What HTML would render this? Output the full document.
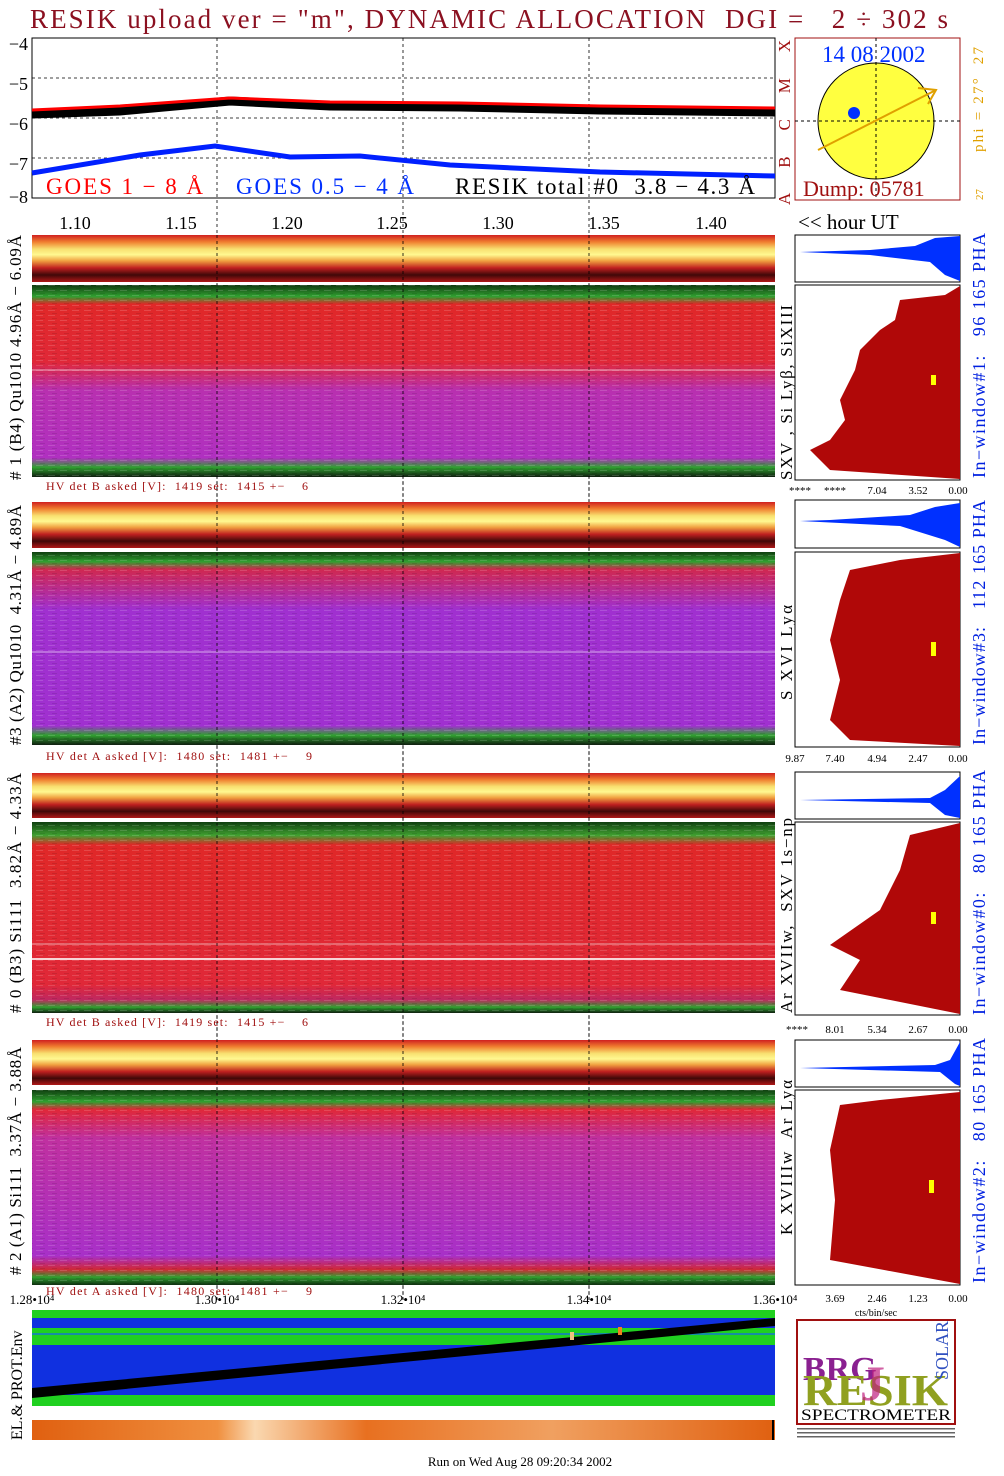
<!DOCTYPE html>
<html><head><meta charset="utf-8"><style>
body{margin:0;background:#fff;width:1004px;height:1476px;overflow:hidden}
svg{display:block}
text{font-family:"Liberation Serif",serif;white-space:pre}
</style></head><body>
<svg width="1004" height="1476" viewBox="0 0 1004 1476" xmlns="http://www.w3.org/2000/svg" xml:space="preserve">
<defs>
<linearGradient id="strip" x1="0" y1="0" x2="0" y2="1">
<stop offset="0" stop-color="#d02020"/><stop offset="0.15" stop-color="#f08030"/><stop offset="0.3" stop-color="#f8e070"/><stop offset="0.42" stop-color="#fff890"/><stop offset="0.55" stop-color="#f0a040"/><stop offset="0.7" stop-color="#c02020"/><stop offset="0.85" stop-color="#400808"/><stop offset="1" stop-color="#b01818"/></linearGradient>
<linearGradient id="m1" x1="0" y1="0" x2="0" y2="1">
<stop offset="0" stop-color="#103810"/><stop offset="0.06" stop-color="#30a030"/><stop offset="0.1" stop-color="#e02828"/><stop offset="0.4" stop-color="#e02838"/><stop offset="0.55" stop-color="#b830b0"/><stop offset="0.9" stop-color="#b030c0"/><stop offset="0.95" stop-color="#30a030"/><stop offset="1" stop-color="#102010"/></linearGradient>
<linearGradient id="m2" x1="0" y1="0" x2="0" y2="1">
<stop offset="0" stop-color="#104010"/><stop offset="0.05" stop-color="#30a030"/><stop offset="0.09" stop-color="#d02850"/><stop offset="0.3" stop-color="#a030d0"/><stop offset="0.9" stop-color="#a030d0"/><stop offset="0.95" stop-color="#30a030"/><stop offset="1" stop-color="#102010"/></linearGradient>
<linearGradient id="m3" x1="0" y1="0" x2="0" y2="1">
<stop offset="0" stop-color="#104010"/><stop offset="0.07" stop-color="#40a030"/><stop offset="0.12" stop-color="#e02828"/><stop offset="0.85" stop-color="#e02838"/><stop offset="0.93" stop-color="#c02860"/><stop offset="0.97" stop-color="#30a030"/><stop offset="1" stop-color="#102010"/></linearGradient>
<linearGradient id="m4" x1="0" y1="0" x2="0" y2="1">
<stop offset="0" stop-color="#104010"/><stop offset="0.06" stop-color="#30a030"/><stop offset="0.1" stop-color="#e02838"/><stop offset="0.25" stop-color="#c030a0"/><stop offset="0.85" stop-color="#a830c8"/><stop offset="0.92" stop-color="#d02838"/><stop offset="0.96" stop-color="#30a030"/><stop offset="1" stop-color="#103010"/></linearGradient>
<pattern id="streak" width="12" height="5" patternUnits="userSpaceOnUse"><rect x="0" y="0" width="7" height="1" fill="#fff" opacity="0.15"/><rect x="4" y="3" width="5" height="1" fill="#000" opacity="0.1"/></pattern>
<linearGradient id="ostrip" x1="0" y1="0" x2="1" y2="0">
<stop offset="0" stop-color="#e06010"/><stop offset="0.25" stop-color="#f09040"/><stop offset="0.3" stop-color="#fad8b0"/><stop offset="0.45" stop-color="#e87020"/><stop offset="0.7" stop-color="#f0a060"/><stop offset="1" stop-color="#e06010"/></linearGradient>
</defs>
<text x="30" y="28" font-size="27" fill="#8b1020" textLength="918" lengthAdjust="spacing">RESIK upload ver = "m", DYNAMIC ALLOCATION  DGI =   2 ÷ 302 s</text>
<rect x="32" y="38" width="743" height="160" fill="#fff" stroke="#000"/>
<g stroke="#000" stroke-dasharray="3,3" stroke-width="0.8">
<line x1="32" y1="78" x2="775" y2="78"/><line x1="32" y1="118" x2="775" y2="118"/><line x1="32" y1="158" x2="775" y2="158"/>
<line x1="217" y1="38" x2="217" y2="1300"/><line x1="403" y1="38" x2="403" y2="1300"/><line x1="589" y1="38" x2="589" y2="1300"/>
</g>
<g font-size="18" text-anchor="end"><text x="28" y="50">−4</text><text x="28" y="90">−5</text><text x="28" y="130">−6</text><text x="28" y="170">−7</text><text x="28" y="203">−8</text></g>
<polyline points="32,114 120,111 230,101 330,106 460,107 600,110 775,112" fill="none" stroke="#000" stroke-width="9"/>
<polyline points="32,110 120,106 230,98 330,102 460,103 600,106 775,108" fill="none" stroke="#f00" stroke-width="3"/>
<polyline points="32,173 140,155 215,146 290,157 360,156 450,165 600,172 775,176" fill="none" stroke="#0020ff" stroke-width="5"/>
<text x="46" y="194" font-size="23" fill="#f00" textLength="157" lengthAdjust="spacing">GOES 1 − 8 Å</text>
<text x="236" y="194" font-size="23" fill="#0030ff" textLength="178" lengthAdjust="spacing">GOES 0.5 − 4 Å</text>
<text x="455" y="194" font-size="23" textLength="300" lengthAdjust="spacing">RESIK total #0  3.8 − 4.3 Å</text>
<text transform="translate(790,205) rotate(-90)" font-size="17" fill="#a01010" textLength="165" lengthAdjust="spacing">A    B    C    M    X</text>
<rect x="795" y="38" width="165" height="162" fill="#fff" stroke="#a01010"/>
<circle cx="876" cy="121" r="58" fill="#ffff40" stroke="#000"/>
<line x1="795" y1="121" x2="960" y2="121" stroke="#000" stroke-dasharray="3,3"/>
<line x1="876" y1="38" x2="876" y2="200" stroke="#000" stroke-dasharray="3,3"/>
<line x1="818" y1="150" x2="936" y2="90" stroke="#e0a000" stroke-width="2"/>
<polyline points="918,88 936,90 928,104" fill="none" stroke="#e0a000" stroke-width="2"/>
<circle cx="854" cy="113" r="6" fill="#0030ff"/>
<text x="822" y="62" font-size="23" fill="#0030ff">14 08 2002</text>
<text x="803" y="196" font-size="22" fill="#a01010">Dump: 05781</text>
<text transform="translate(983,152) rotate(-90)" font-size="15" fill="#e0a000" textLength="105" lengthAdjust="spacing">phi = 27°  27</text>
<text transform="translate(983,200) rotate(-90)" font-size="11" fill="#e0a000">27</text>
<g font-size="18" text-anchor="middle"><text x="75" y="229">1.10</text><text x="181" y="229">1.15</text><text x="287" y="229">1.20</text><text x="392" y="229">1.25</text><text x="498" y="229">1.30</text><text x="604" y="229">1.35</text><text x="711" y="229">1.40</text></g>
<text x="798" y="229" font-size="21">&lt;&lt; hour UT</text>
<g>
<rect x="32" y="235" width="743" height="47" fill="url(#strip)"/>
<rect x="32" y="285" width="743" height="192" fill="url(#m1)"/><rect x="32" y="285" width="743" height="192" fill="url(#streak)"/>
<line x1="32" y1="370" x2="775" y2="370" stroke="#fff" opacity="0.6"/>
<rect x="32" y="502" width="743" height="46" fill="url(#strip)"/>
<rect x="32" y="552" width="743" height="193" fill="url(#m2)"/><rect x="32" y="552" width="743" height="193" fill="url(#streak)"/>
<line x1="32" y1="652" x2="775" y2="652" stroke="#fff" opacity="0.6"/>
<rect x="32" y="773" width="743" height="45" fill="url(#strip)"/>
<rect x="32" y="822" width="743" height="191" fill="url(#m3)"/><rect x="32" y="822" width="743" height="191" fill="url(#streak)"/>
<line x1="32" y1="944" x2="775" y2="944" stroke="#fff" opacity="0.6"/><line x1="32" y1="959" x2="775" y2="959" stroke="#fff" opacity="0.8" stroke-width="2"/>
<rect x="32" y="1040" width="743" height="45" fill="url(#strip)"/>
<rect x="32" y="1090" width="743" height="195" fill="url(#m4)"/><rect x="32" y="1090" width="743" height="195" fill="url(#streak)"/>
</g>
<g stroke="#000" stroke-dasharray="3,3" stroke-width="0.8"><line x1="217" y1="235" x2="217" y2="1300"/><line x1="403" y1="235" x2="403" y2="1300"/><line x1="589" y1="235" x2="589" y2="1300"/></g>
<g font-size="12" fill="#a01010">
<text x="46" y="490" textLength="262" lengthAdjust="spacing">HV det B asked [V]:  1419 set:  1415 +−    6</text>
<text x="46" y="760" textLength="266" lengthAdjust="spacing">HV det A asked [V]:  1480 set:  1481 +−    9</text>
<text x="46" y="1026" textLength="262" lengthAdjust="spacing">HV det B asked [V]:  1419 set:  1415 +−    6</text>
<text x="46" y="1295" textLength="266" lengthAdjust="spacing">HV det A asked [V]:  1480 set:  1481 +−    9</text></g>
<g font-size="17">
<text transform="translate(21,480) rotate(-90)" textLength="245" lengthAdjust="spacing"># 1 (B4) Qu1010 4.96Å − 6.09Å</text>
<text transform="translate(21,745) rotate(-90)" textLength="240" lengthAdjust="spacing">#3 (A2) Qu1010  4.31Å − 4.89Å</text>
<text transform="translate(21,1013) rotate(-90)" textLength="240" lengthAdjust="spacing"># 0 (B3) Si111  3.82Å − 4.33Å</text>
<text transform="translate(21,1275) rotate(-90)" textLength="228" lengthAdjust="spacing"># 2 (A1) Si111  3.37Å − 3.88Å</text>
<text transform="translate(792,480) rotate(-90)" textLength="175" lengthAdjust="spacing">SXV , Si Lyβ, SiXIII</text>
<text transform="translate(792,700) rotate(-90)" textLength="95" lengthAdjust="spacing">S XVI Lyα</text>
<text transform="translate(792,1013) rotate(-90)" textLength="195" lengthAdjust="spacing">Ar XVIIw,  SXV 1s−np</text>
<text transform="translate(792,1235) rotate(-90)" textLength="155" lengthAdjust="spacing">K XVIIIw  Ar Lyα</text>
</g>
<g font-size="18" fill="#0020e0">
<text transform="translate(985,478) rotate(-90)" textLength="245" lengthAdjust="spacing">In−window#1:   96 165 PHA</text>
<text transform="translate(985,745) rotate(-90)" textLength="245" lengthAdjust="spacing">In−window#3:   112 165 PHA</text>
<text transform="translate(985,1015) rotate(-90)" textLength="245" lengthAdjust="spacing">In−window#0:   80 165 PHA</text>
<text transform="translate(985,1283) rotate(-90)" textLength="245" lengthAdjust="spacing">In−window#2:   80 165 PHA</text>
</g>
<g stroke="#000" fill="#fff">
<rect x="795" y="235" width="165" height="47"/><rect x="795" y="285" width="165" height="195"/>
<rect x="795" y="500" width="165" height="48"/><rect x="795" y="552" width="165" height="195"/>
<rect x="795" y="772" width="165" height="47"/><rect x="795" y="822" width="165" height="193"/>
<rect x="795" y="1040" width="165" height="47"/><rect x="795" y="1090" width="165" height="195"/>
</g>
<g fill="#0030ff">
<polygon points="960,236 935,238 915,246 870,250 800,252 870,255 930,262 945,275 960,281"/>
<polygon points="960,503 935,507 910,515 830,520 800,521 900,526 945,540 960,547"/>
<polygon points="960,776 945,790 930,798 800,800 930,803 945,815 960,818"/>
<polygon points="960,1042 950,1060 935,1065 800,1068 940,1072 955,1084 960,1086"/>
</g>
<g fill="#b00808">
<polygon points="960,286 945,295 900,300 895,320 880,330 860,350 855,370 840,400 845,420 830,440 810,450 830,470 960,479"/>
<polygon points="960,553 900,560 850,570 840,600 830,640 840,680 830,720 850,740 960,746"/>
<polygon points="960,823 910,835 900,870 880,910 830,945 860,960 840,990 960,1014"/>
<polygon points="960,1092 880,1100 840,1105 830,1150 835,1200 830,1260 960,1284"/>
</g>
<g fill="#ffff00"><rect x="931" y="375" width="5" height="10"/><rect x="931" y="642" width="5" height="14"/><rect x="931" y="912" width="5" height="12"/><rect x="929" y="1180" width="5" height="13"/></g>
<g font-size="11" text-anchor="middle">
<text x="800" y="494">****</text><text x="835" y="494">****</text><text x="877" y="494">7.04</text><text x="918" y="494">3.52</text><text x="958" y="494">0.00</text>
<text x="795" y="762">9.87</text><text x="835" y="762">7.40</text><text x="877" y="762">4.94</text><text x="918" y="762">2.47</text><text x="958" y="762">0.00</text>
<text x="797" y="1033">****</text><text x="835" y="1033">8.01</text><text x="877" y="1033">5.34</text><text x="918" y="1033">2.67</text><text x="958" y="1033">0.00</text>
<text x="835" y="1302">3.69</text><text x="877" y="1302">2.46</text><text x="918" y="1302">1.23</text><text x="958" y="1302">0.00</text>
<text x="876" y="1316" font-size="10">cts/bin/sec</text>
</g>
<g font-size="13" text-anchor="middle"><text x="32" y="1304">1.28•10⁴</text><text x="217" y="1304">1.30•10⁴</text><text x="403" y="1304">1.32•10⁴</text><text x="589" y="1304">1.34•10⁴</text><text x="775" y="1304">1.36•10⁴</text></g>
<rect x="32" y="1310" width="743" height="96" fill="#20d020"/>
<rect x="32" y="1318" width="743" height="10" fill="#1030e0"/>
<rect x="32" y="1345" width="743" height="50" fill="#1030e0"/>
<rect x="32" y="1333" width="743" height="2" fill="#1060ff" opacity="0.6"/>
<polygon points="32,1388 775,1318 775,1326 32,1398" fill="#000"/>
<rect x="570" y="1332" width="4" height="8" fill="#f0c080"/><rect x="618" y="1327" width="4" height="8" fill="#f08020"/>
<text transform="translate(22,1440) rotate(-90)" font-size="16">EL.&amp; PROT.Env</text>
<rect x="32" y="1420" width="743" height="20" fill="url(#ostrip)"/>
<line x1="773" y1="1420" x2="773" y2="1440" stroke="#000" stroke-width="2"/>
<rect x="797" y="1320" width="158" height="104" fill="#fff" stroke="#a01010" stroke-width="2"/>
<text x="803" y="1380" font-size="34" fill="#8a2090" font-weight="bold">BRG</text>
<text x="803" y="1405" font-size="44" fill="#90a020" font-weight="bold" textLength="145" lengthAdjust="spacingAndGlyphs">RESIK</text>
<text x="860" y="1400" font-size="50" fill="#c02080" font-weight="bold" opacity="0.7">J</text>
<text x="801" y="1420" font-size="16" textLength="150" lengthAdjust="spacingAndGlyphs">SPECTROMETER</text>
<text transform="translate(948,1380) rotate(-90)" font-size="18" fill="#3050c0">SOLAR</text>
<g fill="#000" opacity="0.6"><rect x="797" y="1428" width="158" height="1.5"/><rect x="797" y="1432" width="158" height="1.5"/><rect x="797" y="1436" width="158" height="1.5"/></g>
<text x="520" y="1466" font-size="13" text-anchor="middle">Run on Wed Aug 28 09:20:34 2002</text>
</svg>
</body></html>
